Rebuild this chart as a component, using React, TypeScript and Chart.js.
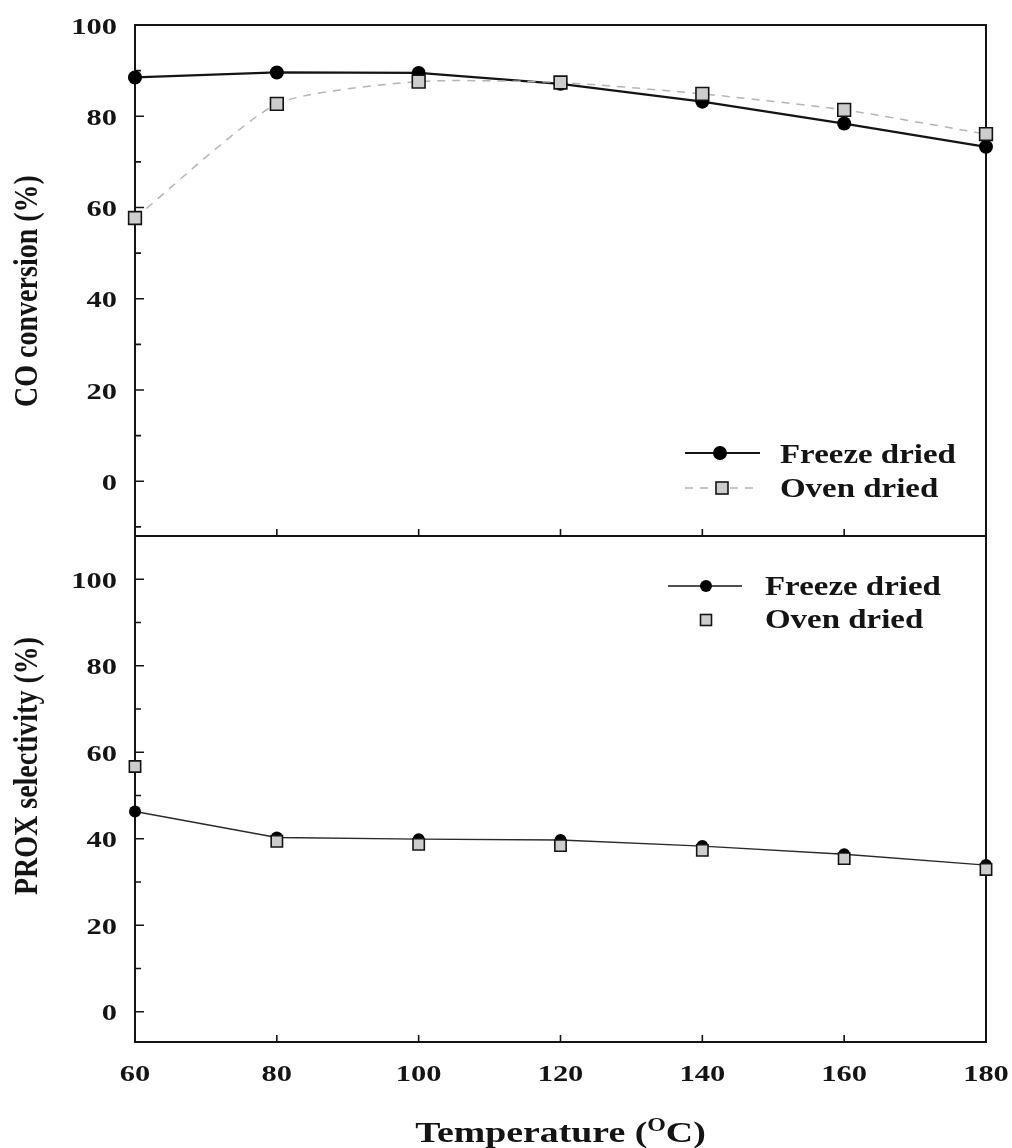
import React, { useEffect, useRef } from "react";
import { Chart, registerables } from "chart.js";

Chart.register(...registerables);

// ---------------- data ----------------
const temperatures = [60, 80, 100, 120, 140, 160, 180];
const coFreezeDried = [88.5, 89.6, 89.5, 87.1, 83.2, 78.4, 73.3];
const coOvenDried = [57.7, 82.7, 87.6, 87.4, 84.9, 81.4, 76.1];
const proxFreezeDried = [46.3, 40.3, 39.9, 39.7, 38.3, 36.4, 33.9];
const proxOvenDried = [56.7, 39.4, 38.7, 38.4, 37.3, 35.4, 32.9];

const seriesNames = ["Freeze dried", "Oven dried"];
const xTickValues = [60, 80, 100, 120, 140, 160, 180];
const coYTicks = [0, 20, 40, 60, 80, 100];
const coYMinorTicks = [-10, 10, 30, 50, 70, 90];
const proxYTicks = [0, 20, 40, 60, 80, 100];
const proxYMinorTicks = [10, 30, 50, 70, 90];
const coYTitle = "CO conversion (%)";
const proxYTitle = "PROX selectivity (%)";
const xTitleParts = ["Temperature (", "O", "C)"];

// ---------------- styling ----------------
const SERIF = '"Liberation Serif", "Times New Roman", serif';
const INK = "#141414";
const SQUARE_FILL = "#cdcdcd";
const OVEN_LINE = "#b4b4b4";

function stretchedText(
  ctx: CanvasRenderingContext2D,
  text: string,
  x: number,
  y: number,
  align: "left" | "right" | "center",
  size: number,
  sx: number
) {
  ctx.save();
  ctx.font = `bold ${size}px ${SERIF}`;
  ctx.textAlign = "left";
  ctx.textBaseline = "alphabetic";
  ctx.fillStyle = INK;
  const w = ctx.measureText(text).width * sx;
  const left = align === "left" ? x : align === "right" ? x - w : x - w / 2;
  ctx.translate(left, y);
  ctx.scale(sx, 1);
  ctx.fillText(text, 0, 0);
  ctx.restore();
}

function rotatedTitle(ctx: CanvasRenderingContext2D, text: string, baseX: number, centerY: number, size: number, sx: number) {
  ctx.save();
  ctx.font = `bold ${size}px ${SERIF}`;
  ctx.fillStyle = INK;
  ctx.textAlign = "center";
  ctx.textBaseline = "alphabetic";
  ctx.translate(baseX, centerY);
  ctx.scale(sx, 1);
  ctx.rotate(-Math.PI / 2);
  ctx.fillText(text, 0, 0);
  ctx.restore();
}

function drawCircle(ctx: CanvasRenderingContext2D, x: number, y: number, r: number) {
  ctx.beginPath();
  ctx.arc(x, y, r, 0, Math.PI * 2);
  ctx.fillStyle = "#000";
  ctx.fill();
}

function drawSquare(ctx: CanvasRenderingContext2D, x: number, y: number, side: number) {
  ctx.fillStyle = SQUARE_FILL;
  ctx.strokeStyle = INK;
  ctx.lineWidth = 1.6;
  ctx.fillRect(x - side / 2, y - side / 2, side, side);
  ctx.strokeRect(x - side / 2, y - side / 2, side, side);
}

type PanelCfg = {
  yTicks: number[];
  yMinor: number[];
  yTitle: string;
  yTitleCenter: number;
  showXLabels: boolean;
  xLabelBaseline?: number;
  xTitleBaseline?: number;
  legend: {
    freezeY: number;
    ovenY: number;
    lineX0: number;
    lineX1: number;
    freezeMarkerX: number;
    ovenMarkerX: number;
    textX: number;
    freezeBaseline: number;
    ovenBaseline: number;
    ovenLine: boolean;
    circleR: number;
    squareSide: number;
    freezeLineWidth: number;
  };
};

function decorPlugin(cfg: PanelCfg) {
  return {
    id: "panelDecor",
    beforeDatasetsDraw(chart: any) {
      const { ctx, chartArea, scales } = chart;
      const { left, right, top, bottom } = chartArea;
      const x = scales.x;
      const y = scales.y;
      ctx.save();
      ctx.strokeStyle = INK;
      ctx.lineWidth = 2;
      ctx.beginPath();
      ctx.rect(left, top, right - left, bottom - top);
      ctx.stroke();
      ctx.lineWidth = 1.6;
      ctx.beginPath();
      for (const v of cfg.yTicks) {
        const py = y.getPixelForValue(v);
        ctx.moveTo(left, py);
        ctx.lineTo(left + 9, py);
      }
      for (const v of cfg.yMinor) {
        const py = y.getPixelForValue(v);
        ctx.moveTo(left, py);
        ctx.lineTo(left + 6, py);
      }
      for (const v of xTickValues) {
        const px = x.getPixelForValue(v);
        ctx.moveTo(px, bottom);
        ctx.lineTo(px, bottom - 7);
      }
      ctx.stroke();
      ctx.restore();
    },
    afterDraw(chart: any) {
      const { ctx, scales } = chart;
      const x = scales.x;
      const y = scales.y;
      for (const v of cfg.yTicks) {
        const py = y.getPixelForValue(v);
        stretchedText(ctx, String(v), 117, py + 8.5, "right", 24, 1.27);
      }
      rotatedTitle(ctx, cfg.yTitle, 37, cfg.yTitleCenter, 28, 1.2);
      if (cfg.showXLabels && cfg.xLabelBaseline !== undefined) {
        for (const v of xTickValues) {
          stretchedText(ctx, String(v), x.getPixelForValue(v), cfg.xLabelBaseline, "center", 24, 1.27);
        }
      }
      if (cfg.xTitleBaseline !== undefined) {
        const size = 30;
        const supSize = 19;
        const sx = 1.26;
        ctx.save();
        ctx.font = `bold ${size}px ${SERIF}`;
        const w0 = ctx.measureText(xTitleParts[0]).width;
        const w2 = ctx.measureText(xTitleParts[2]).width;
        ctx.font = `bold ${supSize}px ${SERIF}`;
        const w1 = ctx.measureText(xTitleParts[1]).width;
        ctx.restore();
        const total = (w0 + w1 + w2) * sx;
        const cx = (chart.chartArea.left + chart.chartArea.right) / 2;
        const start = cx - total / 2;
        stretchedText(ctx, xTitleParts[0], start, cfg.xTitleBaseline, "left", size, sx);
        stretchedText(ctx, xTitleParts[1], start + w0 * sx, cfg.xTitleBaseline - 11, "left", supSize, sx);
        stretchedText(ctx, xTitleParts[2], start + (w0 + w1) * sx, cfg.xTitleBaseline, "left", size, sx);
      }
      const L = cfg.legend;
      ctx.save();
      ctx.strokeStyle = INK;
      ctx.lineWidth = L.freezeLineWidth;
      ctx.beginPath();
      ctx.moveTo(L.lineX0, L.freezeY);
      ctx.lineTo(L.lineX1, L.freezeY);
      ctx.stroke();
      drawCircle(ctx, L.freezeMarkerX, L.freezeY, L.circleR);
      if (L.ovenLine) {
        ctx.strokeStyle = OVEN_LINE;
        ctx.lineWidth = 1.5;
        ctx.setLineDash([8, 7]);
        ctx.beginPath();
        ctx.moveTo(L.lineX0, L.ovenY);
        ctx.lineTo(L.lineX1, L.ovenY);
        ctx.stroke();
        ctx.setLineDash([]);
      }
      drawSquare(ctx, L.ovenMarkerX, L.ovenY, L.squareSide);
      ctx.restore();
      stretchedText(ctx, seriesNames[0], L.textX, L.freezeBaseline, "left", 27, 1.22);
      stretchedText(ctx, seriesNames[1], L.textX, L.ovenBaseline, "left", 27, 1.22);
    },
  };
}

function buildConfig(
  freeze: number[],
  oven: number[],
  yMin: number,
  yMax: number,
  padding: { left: number; right: number; top: number; bottom: number },
  top: boolean,
  cfg: PanelCfg
): any {
  return {
    type: "line",
    data: {
      datasets: [
        {
          label: seriesNames[0],
          data: temperatures.map((t, i) => ({ x: t, y: freeze[i] })),
          borderColor: top ? INK : "#2a2a2a",
          borderWidth: top ? 2.2 : 1.4,
          pointRadius: top ? 7 : 6,
          pointStyle: "circle",
          pointBackgroundColor: "#000",
          pointBorderColor: "#000",
          pointBorderWidth: 0,
          tension: 0,
          order: 1,
          clip: false,
        },
        {
          label: seriesNames[1],
          data: temperatures.map((t, i) => ({ x: t, y: oven[i] })),
          showLine: top,
          borderColor: OVEN_LINE,
          borderWidth: 1.5,
          borderDash: [8, 7],
          pointStyle: "rect",
          pointRadius: top ? 9 : 8,
          pointBackgroundColor: SQUARE_FILL,
          pointBorderColor: INK,
          pointBorderWidth: 1.6,
          tension: 0.2,
          order: 0,
          clip: false,
        },
      ],
    },
    options: {
      responsive: false,
      animation: false,
      events: [],
      layout: { padding, autoPadding: false },
      scales: {
        x: { type: "linear", min: 60, max: 180, display: false },
        y: { type: "linear", min: yMin, max: yMax, display: false },
      },
      plugins: { legend: { display: false }, tooltip: { enabled: false }, title: { display: false } },
    },
    plugins: [decorPlugin(cfg)],
  };
}

const TOP_CANVAS_H = 540;
const BOTTOM_CANVAS_TOP = 530;
const BOTTOM_CANVAS_H = 1148 - BOTTOM_CANVAS_TOP;

export default function App() {
  const topRef = useRef<HTMLCanvasElement | null>(null);
  const bottomRef = useRef<HTMLCanvasElement | null>(null);

  useEffect(() => {
    if (!topRef.current || !bottomRef.current) return;
    const topCfg: PanelCfg = {
      yTicks: coYTicks,
      yMinor: coYMinorTicks,
      yTitle: coYTitle,
      yTitleCenter: 291,
      showXLabels: false,
      legend: {
        freezeY: 453,
        ovenY: 488,
        lineX0: 685,
        lineX1: 760,
        freezeMarkerX: 720,
        ovenMarkerX: 722,
        textX: 780,
        freezeBaseline: 463,
        ovenBaseline: 497,
        ovenLine: true,
        circleR: 7,
        squareSide: 12,
        freezeLineWidth: 2,
      },
    };
    const off = BOTTOM_CANVAS_TOP;
    const bottomCfg: PanelCfg = {
      yTicks: proxYTicks,
      yMinor: proxYMinorTicks,
      yTitle: proxYTitle,
      yTitleCenter: 766 - off,
      showXLabels: true,
      xLabelBaseline: 1081 - off,
      xTitleBaseline: 1142 - off,
      legend: {
        freezeY: 586 - off,
        ovenY: 620 - off,
        lineX0: 668,
        lineX1: 742,
        freezeMarkerX: 706,
        ovenMarkerX: 706,
        textX: 765,
        freezeBaseline: 595 - off,
        ovenBaseline: 628 - off,
        ovenLine: false,
        circleR: 6,
        squareSide: 11,
        freezeLineWidth: 1.4,
      },
    };
    const topChart = new Chart(
      topRef.current,
      buildConfig(coFreezeDried, coOvenDried, -12, 100, { left: 135, right: 1012 - 986, top: 25, bottom: TOP_CANVAS_H - 536 }, true, topCfg)
    );
    const bottomChart = new Chart(
      bottomRef.current,
      buildConfig(
        proxFreezeDried,
        proxOvenDried,
        -7,
        110,
        { left: 135, right: 1012 - 986, top: 536 - off, bottom: 1148 - 1042 },
        false,
        bottomCfg
      )
    );
    return () => {
      topChart.destroy();
      bottomChart.destroy();
    };
  }, []);

  return (
    <div style={{ position: "absolute", left: 0, top: 0, width: 1012, height: 1148, background: "#fff", overflow: "hidden" }}>
      <canvas
        ref={topRef}
        width={1012}
        height={TOP_CANVAS_H}
        style={{ position: "absolute", left: 0, top: 0, width: 1012, height: TOP_CANVAS_H }}
      />
      <canvas
        ref={bottomRef}
        width={1012}
        height={BOTTOM_CANVAS_H}
        style={{ position: "absolute", left: 0, top: BOTTOM_CANVAS_TOP, width: 1012, height: BOTTOM_CANVAS_H }}
      />
    </div>
  );
}
